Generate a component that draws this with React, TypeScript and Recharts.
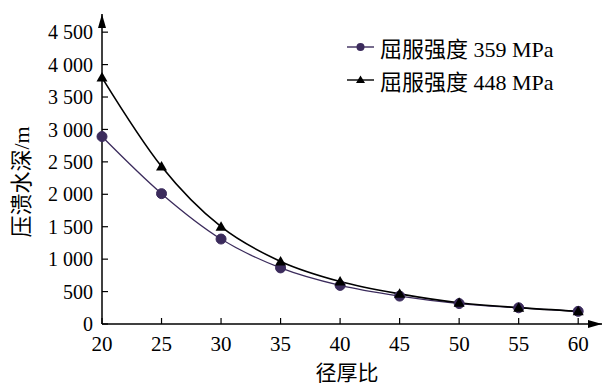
import React from 'react';
import { LineChart, Line, XAxis, YAxis, Legend } from 'recharts';

const ratios = [20, 25, 30, 35, 40, 45, 50, 55, 60];
const depth359 = [2890, 2010, 1310, 865, 595, 430, 315, 250, 195];
const depth448 = [3800, 2430, 1500, 965, 655, 465, 328, 252, 195];
const xTicks = [20, 25, 30, 35, 40, 45, 50, 55, 60];
const yTicks = [0, 500, 1000, 1500, 2000, 2500, 3000, 3500, 4000, 4500];
const seriesNames = ['屈服强度 359 MPa', '屈服强度 448 MPa'];
const xTitle = '径厚比';
const yTitle = '压溃水深/m';

const PURPLE = '#3b2b5c';
const BLACK = '#000000';
const FONT = "'Liberation Serif', 'Noto Sans CJK SC', serif";

const data = ratios.map((r, i) => ({ ratio: r, s359: depth359[i], s448: depth448[i] }));

const fmt = (v: number) => {
  if (v >= 1000) {
    const th = Math.floor(v / 1000);
    const rest = String(v % 1000).padStart(3, '0');
    return `${th} ${rest}`;
  }
  return String(v);
};

const CircleDot = (props: any) => {
  const { cx, cy } = props;
  if (cx == null || cy == null) return null;
  return <circle cx={cx} cy={cy} r={5} fill={PURPLE} stroke={PURPLE} strokeWidth={1} />;
};

const TriDot = (props: any) => {
  const { cx, cy } = props;
  if (cx == null || cy == null) return null;
  return <path d={`M${cx},${cy - 5.5} L${cx + 5.5},${cy + 4} L${cx - 5.5},${cy + 4} Z`} fill={BLACK} />;
};

const renderLegend = () => (
  <div style={{ fontFamily: FONT, fontSize: 22, color: '#000' }}>
    {seriesNames.map((n, i) => (
      <div key={n} style={{ display: 'flex', alignItems: 'center', height: 33 }}>
        <svg width={30} height={14} style={{ display: 'block' }}>
          <line x1={1} y1={7} x2={28} y2={7} stroke={i === 0 ? PURPLE : BLACK} strokeWidth={1.4} />
          {i === 0 ? (
            <circle cx={14.5} cy={7} r={4} fill={PURPLE} />
          ) : (
            <path d="M14.5,2.5 L19,10 L10,10 Z" fill={BLACK} />
          )}
        </svg>
        <span style={{ marginLeft: 4, whiteSpace: 'nowrap' }}>{n}</span>
      </div>
    ))}
  </div>
);

export default function App() {
  return (
    <div style={{ position: 'absolute', left: 0, top: 0, width: 613, height: 386, background: '#fff' }}>
      <LineChart
        width={613}
        height={386}
        data={data}
        margin={{ top: 14, right: 11, left: 0, bottom: 0 }}
      >
        <defs>
          <marker
            id="arrowHead"
            markerWidth={15}
            markerHeight={8}
            refX={14}
            refY={4}
            orient="auto-start-reverse"
            markerUnits="userSpaceOnUse"
          >
            <path d="M0,0 L14,4 L0,8 Z" fill="#000" />
          </marker>
        </defs>
        <XAxis
          dataKey="ratio"
          type="number"
          domain={[20, 62]}
          ticks={xTicks}
          height={62}
          tickSize={-6}
          tickMargin={18}
          axisLine={{ stroke: '#000', strokeWidth: 1.5, markerEnd: 'url(#arrowHead)' }}
          tickLine={{ stroke: '#000', strokeWidth: 1.2 }}
          tick={{ fill: '#000', fontSize: 21, fontFamily: FONT }}
          interval={0}
        />
        <YAxis
          type="number"
          domain={[0, 4780]}
          ticks={yTicks}
          width={102}
          tickSize={-6}
          tickMargin={15}
          tickFormatter={fmt}
          axisLine={{ stroke: '#000', strokeWidth: 1.5, markerStart: 'url(#arrowHead)' }}
          tickLine={{ stroke: '#000', strokeWidth: 1.2 }}
          tick={{ fill: '#000', fontSize: 20, fontFamily: FONT }}
          interval={0}
        />
        <Legend
          content={renderLegend}
          layout="vertical"
          align="center"
          verticalAlign="middle"
          wrapperStyle={{ position: 'absolute', left: 346, top: 30, width: 'auto', height: 'auto' }}
        />
        <Line
          type="monotone"
          dataKey="s359"
          name={seriesNames[0]}
          stroke={PURPLE}
          strokeWidth={1.3}
          dot={<CircleDot />}
          activeDot={false}
          isAnimationActive={false}
        />
        <Line
          type="monotone"
          dataKey="s448"
          name={seriesNames[1]}
          stroke={BLACK}
          strokeWidth={1.6}
          dot={<TriDot />}
          activeDot={false}
          isAnimationActive={false}
        />
        <text
          x={0}
          y={0}
          transform="translate(29,182) rotate(-90)"
          textAnchor="middle"
          fontFamily={FONT}
          fontSize={22}
          fill="#000"
        >
          {yTitle}
        </text>
        <text x={347} y={380} textAnchor="middle" fontFamily={FONT} fontSize={21} fill="#000">
          {xTitle}
        </text>
      </LineChart>
    </div>
  );
}
